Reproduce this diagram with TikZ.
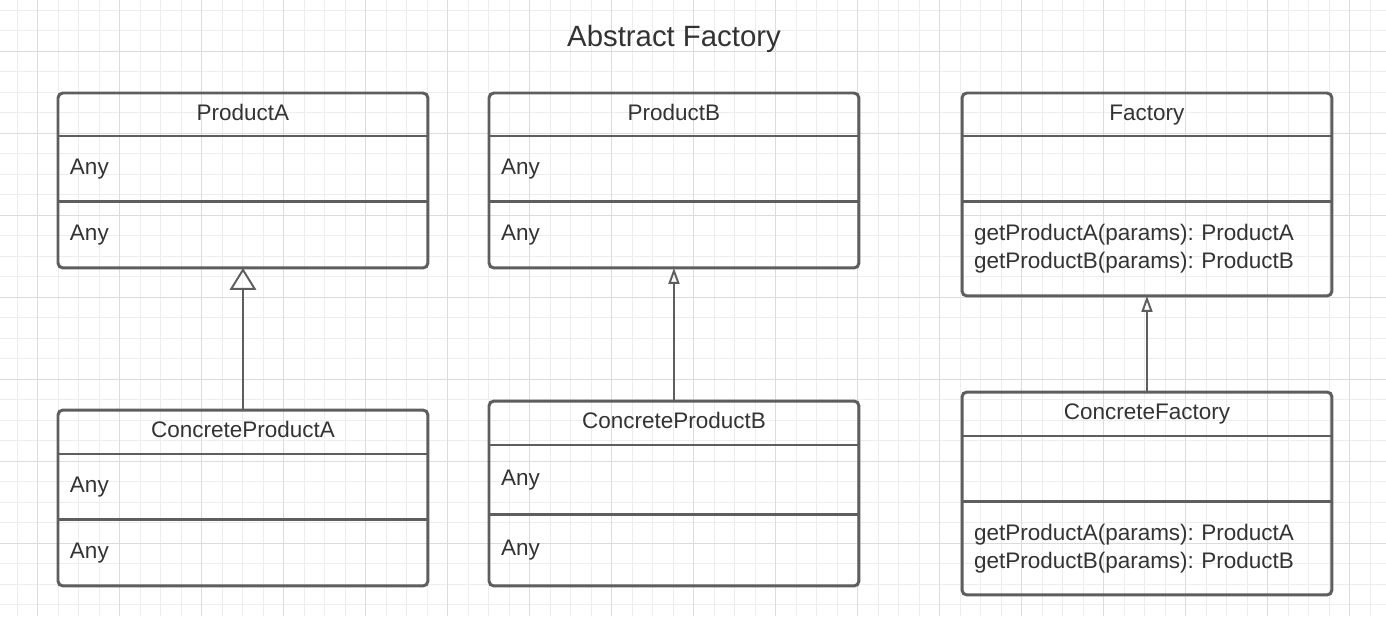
\documentclass[tikz,border=0pt]{standalone}
\usepackage{fontspec}
\setmainfont{Liberation Sans}
\usepackage{tikz}
\usetikzlibrary{arrows.meta,positioning}
\definecolor{umlline}{HTML}{5E5E5E}
\definecolor{umltext}{HTML}{333333}
\definecolor{gridminor}{HTML}{EDEDED}
\definecolor{gridmajor}{HTML}{DCDCDC}
\newcommand{\umlfont}{\fontsize{12.8}{15.9}\selectfont}
\frenchspacing

\begin{document}
\begin{tikzpicture}[x=0.02cm,y=-0.02cm,
  classhead/.style={minimum width=7.4cm, minimum height=#1, inner sep=0pt,
    outer sep=0pt, align=center, font=\umlfont, text=umltext,
    text height=9.2pt, text depth=2.7pt},
  classpart/.style={minimum width=7.4cm, minimum height=#1, text width=6.92cm,
    inner xsep=0.24cm, inner ysep=0pt, outer sep=0pt, align=left,
    font=\umlfont, text=umltext},
  classline/.style={draw=umlline, line width=1.7pt},
  bigtip/.style={draw=umlline, line width=1.1pt,
    -{Triangle[open, length=12.4pt, width=15pt]}},
  smalltip/.style={draw=umlline, line width=1.1pt,
    -{Triangle[open, length=9pt, width=6.2pt]}}]
  \useasboundingbox (0,0) rectangle (1386,616);
  \fill[white] (0,0) rectangle (1386,616);
  \foreach \i in {0,...,66}
    \draw[gridminor, line width=0.55pt] (17.2+20.5*\i,0)--(17.2+20.5*\i,616);
  \foreach \j in {0,...,29}
    \draw[gridminor, line width=0.55pt] (0,10+20.5*\j)--(1386,10+20.5*\j);
  \foreach \i in {0,...,16}
    \draw[gridmajor, line width=0.55pt] (37.7+82*\i,0)--(37.7+82*\i,616);
  \foreach \j in {0,...,6}
    \draw[gridmajor, line width=0.55pt] (0,51.3+82*\j)--(1386,51.3+82*\j);

  \node[font=\fontsize{16.7}{20}\selectfont, text=umltext] (title) at (674,39)
    {Abstract Factory};

  \node[classhead=0.86cm, anchor=north west] (pa) at (58,93) {ProductA};
  \node[classpart=1.32cm, below=0pt of pa] (pa-attr) {Any};
  \node[classpart=1.32cm, below=0pt of pa-attr] (pa-ops) {Any};

  \node[classhead=0.86cm, anchor=north west] (pb) at (489,93) {ProductB};
  \node[classpart=1.32cm, below=0pt of pb] (pb-attr) {Any};
  \node[classpart=1.32cm, below=0pt of pb-attr] (pb-ops) {Any};

  \node[classhead=0.86cm, anchor=north west] (fa) at (962,93) {Factory};
  \node[classpart=1.32cm, below=0pt of fa] (fa-attr) {};
  \node[classpart=1.88cm, below=0pt of fa-attr] (fa-ops)
    {getProductA(params): ProductA\\getProductB(params): ProductB};

  \node[classhead=0.88cm, anchor=north west] (cpa) at (58,410) {ConcreteProductA};
  \node[classpart=1.32cm, below=0pt of cpa] (cpa-attr) {Any};
  \node[classpart=1.32cm, below=0pt of cpa-attr] (cpa-ops) {Any};

  \node[classhead=0.88cm, anchor=north west] (cpb) at (489,401) {ConcreteProductB};
  \node[classpart=1.40cm, below=0pt of cpb] (cpb-attr) {Any};
  \node[classpart=1.42cm, below=0pt of cpb-attr] (cpb-ops) {Any};

  \node[classhead=0.88cm, anchor=north west] (cf) at (962,392) {ConcreteFactory};
  \node[classpart=1.32cm, below=0pt of cf] (cf-attr) {};
  \node[classpart=1.86cm, below=0pt of cf-attr] (cf-ops)
    {getProductA(params): ProductA\\getProductB(params): ProductB};

  \foreach \c in {pa,pb,fa,cpa,cpb,cf}{
    \draw[classline, rounded corners=2.8pt] (\c.north west) rectangle (\c-ops.south east);
    \draw[classline] (\c.south west)--(\c.south east);
    \draw[classline] (\c-attr.south west)--(\c-attr.south east);
  }

  \draw[bigtip] (cpa.north)--(pa-ops.south);
  \draw[smalltip] (cpb.north)--(pb-ops.south);
  \draw[smalltip] (cf.north)--(fa-ops.south);
\end{tikzpicture}
\end{document}
